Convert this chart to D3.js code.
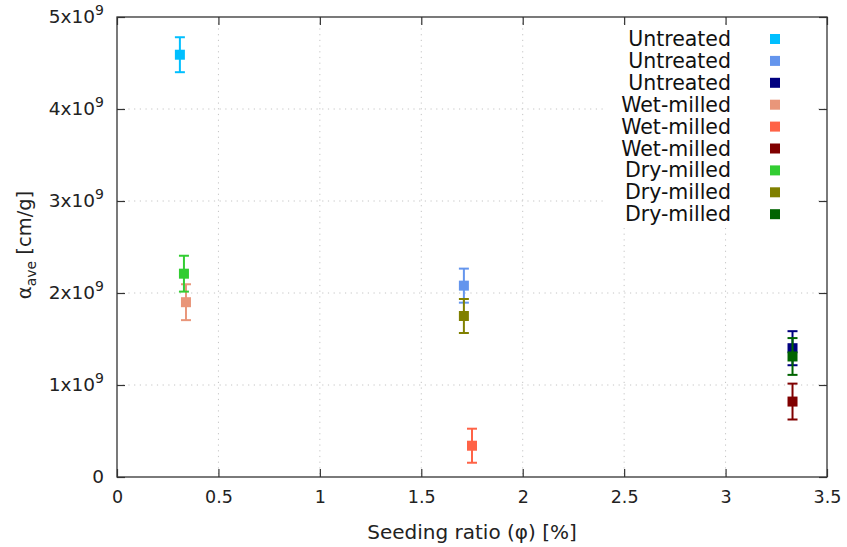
<!DOCTYPE html>
<html>
<head>
<meta charset="utf-8">
<script src="https://cdn.jsdelivr.net/npm/d3@7"></script>
<style>
  body { margin: 0; background: #fff; }
  text { font-family: "DejaVu Sans", Verdana, sans-serif; }
</style>
</head>
<body>
<svg id="chart" width="847" height="547"></svg>
<script>
// Specific cake resistance vs seeding ratio, three pre-treatments
const seriesNames  = ["Untreated", "Untreated", "Untreated",
                      "Wet-milled", "Wet-milled", "Wet-milled",
                      "Dry-milled", "Dry-milled", "Dry-milled"];
const seriesColors = ["#00bfff", "#6495ed", "#000080",
                      "#e9967a", "#ff6347", "#800000",
                      "#32cd32", "#808000", "#006400"];
const seedingRatio = [0.31, 1.71, 3.33, 0.34, 1.75, 3.33, 0.33, 1.71, 3.33];
const alphaAve     = [4.59e9, 2.08e9, 1.40e9, 1.90e9, 0.34e9, 0.82e9, 2.21e9, 1.75e9, 1.31e9];
const alphaErr     = [0.19e9, 0.185e9, 0.185e9, 0.195e9, 0.185e9, 0.195e9, 0.195e9, 0.185e9, 0.2e9];
const xTicks = [0, 0.5, 1, 1.5, 2, 2.5, 3, 3.5];
const xTickLabels = ["0", "0.5", "1", "1.5", "2", "2.5", "3", "3.5"];
const yTicks = [0, 1e9, 2e9, 3e9, 4e9, 5e9];
const yTickMant = ["0", "1", "2", "3", "4", "5"];

const svg = d3.select("#chart");
const m = { left: 117, right: 827, top: 17, bottom: 477 };
const x = d3.scaleLinear().domain([0, 3.5]).range([m.left, m.right]);
const y = d3.scaleLinear().domain([0, 5e9]).range([m.bottom, m.top]);

const points = seriesNames.map((name, i) => ({
  name, color: seriesColors[i], x: seedingRatio[i], y: alphaAve[i], e: alphaErr[i]
}));

// dotted grid
const grid = svg.append("g").attr("stroke", "#c4c4c4").attr("stroke-width", 1)
  .attr("stroke-dasharray", "1.2,4.5");
xTicks.slice(1, -1).forEach(t => {
  grid.append("line").attr("x1", x(t)).attr("x2", x(t))
    .attr("y1", m.top).attr("y2", m.bottom);
});
yTicks.slice(1, -1).forEach(t => {
  grid.append("line").attr("x1", m.left).attr("x2", m.right)
    .attr("y1", y(t)).attr("y2", y(t));
});

// axes with inward ticks, mirrored on top and right
const tickLen = 8;
const axisBottom = d3.axisBottom(x).tickValues(xTicks).tickSize(-tickLen).tickPadding(14)
  .tickFormat((d, i) => xTickLabels[i]);
const axisTop = d3.axisTop(x).tickValues(xTicks).tickSize(-tickLen).tickFormat("");
const axisLeft = d3.axisLeft(y).tickValues(yTicks).tickSize(-tickLen).tickFormat("");
const axisRight = d3.axisRight(y).tickValues(yTicks).tickSize(-tickLen).tickFormat("");

function styleAxis(g) {
  g.select(".domain").remove();
  g.selectAll(".tick line").attr("stroke", "#333").attr("stroke-width", 1.2);
  g.selectAll(".tick text").attr("fill", "#222").attr("font-size", 17.5)
    .attr("font-family", "'DejaVu Sans', Verdana, sans-serif");
}
svg.append("g").attr("transform", `translate(0,${m.bottom})`).call(axisBottom).call(styleAxis);
svg.append("g").attr("transform", `translate(0,${m.top})`).call(axisTop).call(styleAxis);
svg.append("g").attr("transform", `translate(${m.left},0)`).call(axisLeft).call(styleAxis);
svg.append("g").attr("transform", `translate(${m.right},0)`).call(axisRight).call(styleAxis);

// y tick labels with exponent
yTicks.forEach((t, i) => {
  const tx = svg.append("text").attr("x", 104).attr("y", y(t) + 6)
    .attr("text-anchor", "end").attr("font-size", 18.5).attr("fill", "#222");
  if (t === 0) {
    tx.text("0");
  } else {
    tx.append("tspan").text(yTickMant[i] + "x10");
    tx.append("tspan").attr("dy", -8).attr("font-size", 14).text("9");
  }
});

// legend background covers the grid
svg.append("rect").attr("x", 605).attr("y", 26).attr("width", 210).attr("height", 202)
  .attr("fill", "#fff");

// frame
svg.append("rect").attr("x", m.left).attr("y", m.top)
  .attr("width", m.right - m.left).attr("height", m.bottom - m.top)
  .attr("fill", "none").attr("stroke", "#333").attr("stroke-width", 1.3);

// error bars and markers
const cap = 5, sq = 10;
const pg = svg.append("g");
points.forEach(p => {
  const g = pg.append("g").attr("stroke", p.color).attr("fill", p.color);
  const cx = x(p.x);
  g.append("line").attr("x1", cx).attr("x2", cx)
    .attr("y1", y(p.y - p.e)).attr("y2", y(p.y + p.e)).attr("stroke-width", 2);
  [p.y - p.e, p.y + p.e].forEach(v => {
    g.append("line").attr("x1", cx - cap).attr("x2", cx + cap)
      .attr("y1", y(v)).attr("y2", y(v)).attr("stroke-width", 2);
  });
  g.append("rect").attr("x", cx - sq / 2).attr("y", y(p.y) - sq / 2)
    .attr("width", sq).attr("height", sq).attr("stroke", "none");
});

// legend
const lg = svg.append("g");
points.forEach((p, i) => {
  const ly = 39 + i * 21.9;
  lg.append("text").attr("x", 731).attr("y", ly + 7).attr("text-anchor", "end")
    .attr("font-size", 20.5).attr("fill", "#111").text(p.name);
  lg.append("rect").attr("x", 770).attr("y", ly - 5).attr("width", 10).attr("height", 10)
    .attr("fill", p.color);
});

// axis titles
svg.append("text").attr("x", 472).attr("y", 539).attr("text-anchor", "middle")
  .attr("font-size", 20).attr("fill", "#222").text("Seeding ratio (φ) [%]");
const yt = svg.append("text").attr("transform", "translate(31,245) rotate(-90)")
  .attr("text-anchor", "middle").attr("font-size", 19.5).attr("fill", "#222");
yt.append("tspan").text("α");
yt.append("tspan").attr("dy", 5).attr("font-size", 14).text("ave");
yt.append("tspan").attr("dy", -5).text(" [cm/g]");
</script>
</body>
</html>
